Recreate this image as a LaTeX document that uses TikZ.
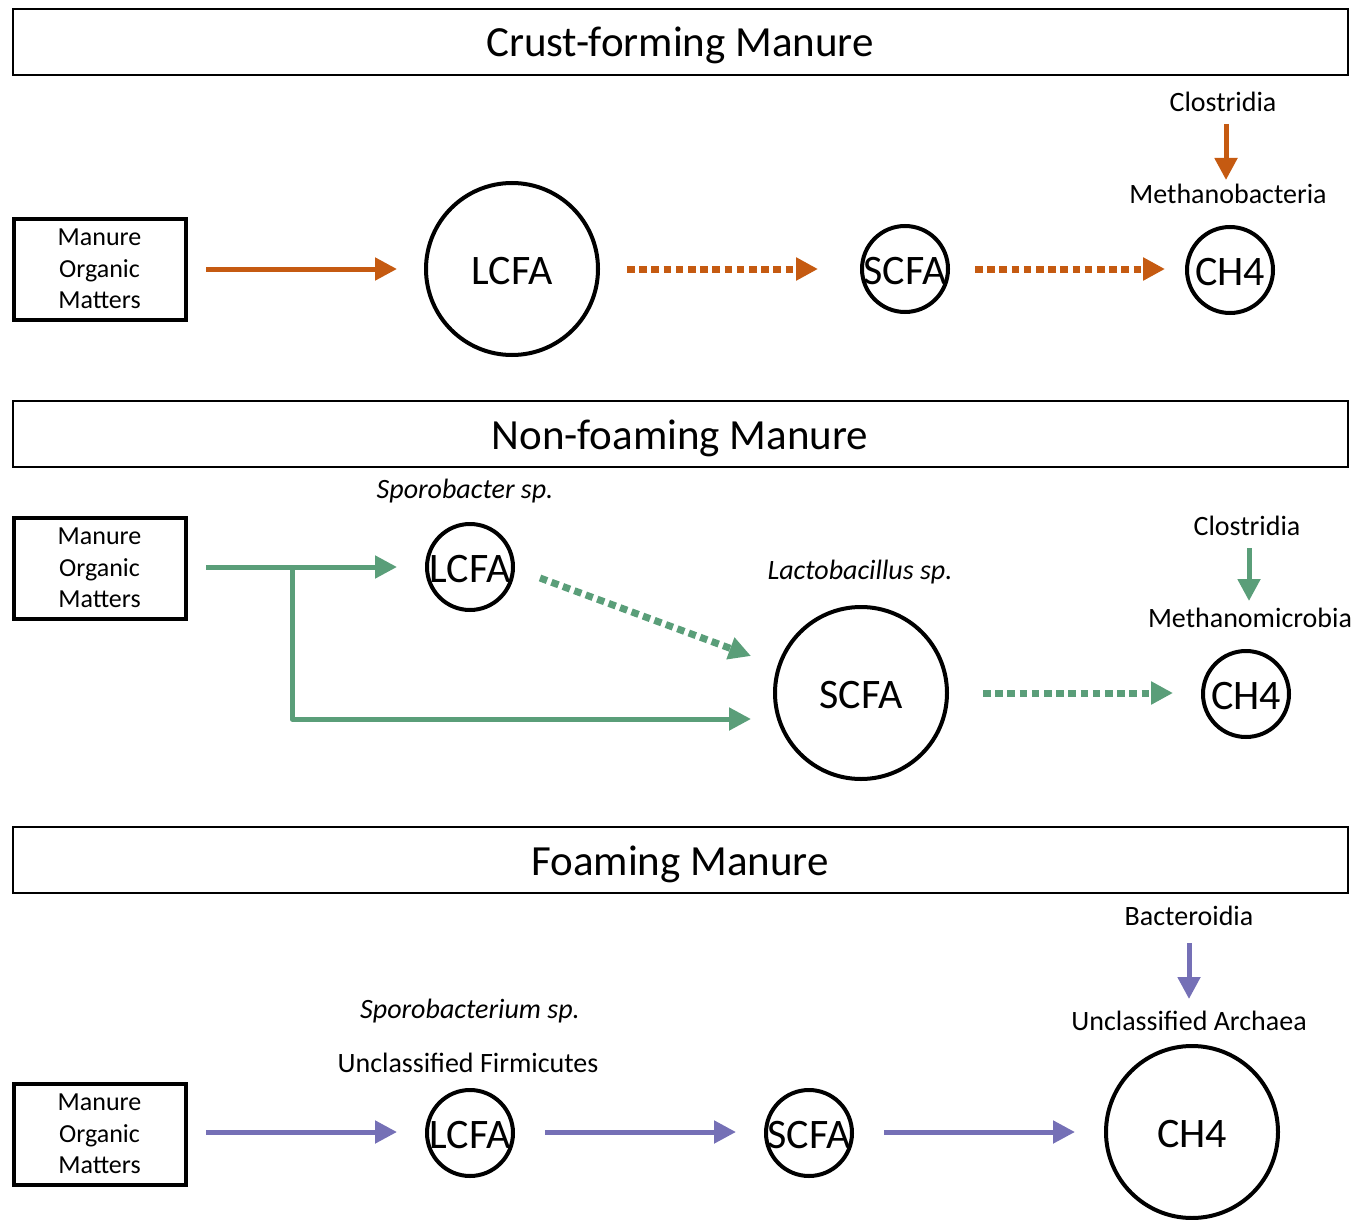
\documentclass[tikz,border=0pt]{standalone}
\usepackage{fontspec}
\setmainfont{Carlito}
\usetikzlibrary{arrows.meta}
\definecolor{corange}{HTML}{C55A11}
\definecolor{cgreen}{HTML}{5A9E79}
\definecolor{cpurple}{HTML}{7570B6}
\tikzset{
  titlebox/.style={draw, line width=2pt, minimum width=1335pt, minimum height=66pt, inner sep=0pt, text height=40pt, text depth=10pt, font=\fontsize{43}{50}\selectfont},
  mombox/.style={draw, line width=4pt, minimum width=172pt, minimum height=101pt, inner sep=0pt, align=center, font=\fontsize{26}{31.5}\selectfont},
  bigc/.style={circle, draw, line width=4pt, minimum size=172pt, inner sep=0pt, text height=34pt, text depth=4pt, font=\fontsize{42}{48}\selectfont},
  smallc/.style={circle, draw, line width=4pt, minimum size=86pt, inner sep=0pt, text height=34pt, text depth=4pt, font=\fontsize{42}{48}\selectfont},
  lab/.style={inner sep=0pt, font=\fontsize{28}{34}\selectfont},
  ilab/.style={inner sep=0pt, font=\fontsize{28}{34}\selectfont\itshape},
  solidarr/.style={line width=5pt, -{Triangle[length=22pt,width=22pt]}},
  dotarr/.style={line width=7pt, dash pattern=on 7.5pt off 4.7pt, -{Triangle[length=22pt,width=22pt]}},
}
\newcommand{\ctext}[1]{\makebox[0pt]{#1}}
\begin{document}
\begin{tikzpicture}[x=1pt,y=-1pt]
\useasboundingbox (0,0) rectangle (1371,1220);
% ---------- Panel 1 ----------
\node[titlebox] (t1) at (680,42) {Crust-forming Manure};
\node[mombox] (m1) at (99.5,269) {Manure\\Organic\\Matters};
\node[bigc] (l1) at (512,269) {\ctext{LCFA}};
\node[smallc] (s1) at (905,269) {\ctext{SCFA}};
\node[smallc] (c1) at (1230,270) {\ctext{CH4}};
\node[lab] (cl1) at (1223,102) {Clostridia};
\node[lab] (mb1) at (1228,194) {Methanobacteria};
\draw[corange, solidarr] (206,269) -- (397,269);
\draw[corange, dotarr] (627,269) -- (818,269);
\draw[corange, dotarr] (975,269) -- (1165,269);
\draw[corange, solidarr] (1226,124) -- (1226,180);
% ---------- Panel 2 ----------
\node[titlebox] (t2) at (680,434) {Non-foaming Manure};
\node[mombox] (m2) at (99.5,568) {Manure\\Organic\\Matters};
\node[ilab] (sp2) at (465,491) {Sporobacter sp.};
\node[smallc] (l2) at (470,567) {\ctext{LCFA}};
\node[ilab] (lb2) at (860,572) {Lactobacillus sp.};
\node[bigc] (s2) at (861,693) {\ctext{SCFA}};
\node[lab] (cl2) at (1247,526) {Clostridia};
\node[lab] (mm2) at (1250,618) {Methanomicrobia};
\node[smallc] (c2) at (1246,694) {\ctext{CH4}};
\coordinate (br) at (292,567);
\coordinate (bre) at (751,719);
\draw[cgreen, solidarr] (206,567) -- (397,567);
\draw[cgreen, solidarr, line join=round] (br) |- (bre);
\draw[cgreen, dotarr] (540,578) -- (751,656);
\draw[cgreen, dotarr] (983,693) -- (1173,693);
\draw[cgreen, solidarr] (1249,548) -- (1249,601);
% ---------- Panel 3 ----------
\node[titlebox] (t3) at (680,860) {Foaming Manure};
\node[mombox] (m3) at (99.5,1134) {Manure\\Organic\\Matters};
\node[lab] (bc3) at (1189,916) {Bacteroidia};
\node[lab] (ua3) at (1189,1021) {Unclassified Archaea};
\node[ilab] (sp3) at (470,1011) {Sporobacterium sp.};
\node[lab] (uf3) at (468,1063) {Unclassified Firmicutes};
\node[smallc] (l3) at (470,1133) {\ctext{LCFA}};
\node[smallc] (s3) at (809,1133) {\ctext{SCFA}};
\node[bigc] (c3) at (1192,1132) {\ctext{CH4}};
\draw[cpurple, solidarr] (206,1132) -- (397,1132);
\draw[cpurple, solidarr] (545,1132) -- (736,1132);
\draw[cpurple, solidarr] (884,1132) -- (1075,1132);
\draw[cpurple, solidarr] (1189,943) -- (1189,999);
\end{tikzpicture}
\end{document}
